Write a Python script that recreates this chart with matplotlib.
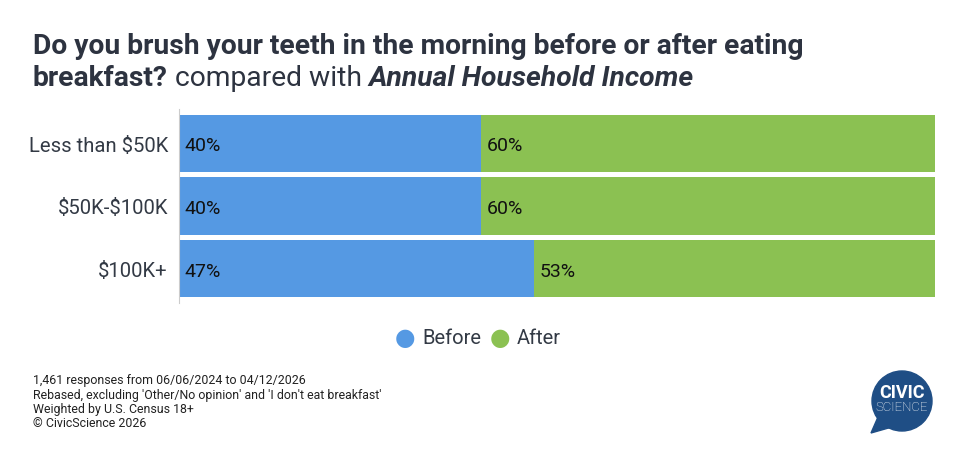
import matplotlib.pyplot as plt
from matplotlib.patches import Circle, Polygon

plt.rcParams['font.family'] = ['Roboto', 'DejaVu Sans']
plt.rcParams['text.parse_math'] = False

categories = ['Less than $50K', '$50K-$100K', '$100K+']
before = [40, 40, 47]
after = [60, 60, 53]
series_names = ['Before', 'After']
colors = ['#5599E3', '#8BC152']
footnotes = ["1,461 responses from 06/06/2024 to 04/12/2026",
             "Rebased, excluding 'Other/No opinion' and 'I don't eat breakfast'",
             "Weighted by U.S. Census 18+",
             "\u00a9 CivicScience 2026"]

W, H = 966, 464
fig = plt.figure(figsize=(W / 100, H / 100), dpi=100)
ax = fig.add_axes([179 / W, 1 - 301 / H, (935 - 179) / W, (301 - 113) / H])

y = list(range(len(categories)))
ax.barh(y, before, height=0.92, color=colors[0])
ax.barh(y, after, left=before, height=0.92, color=colors[1])
for i in y:
    ax.text(0.7, i + 0.03, f'{before[i]}%', va='center', ha='left', fontsize=14, color='#111111')
    ax.text(before[i] + 0.7, i + 0.03, f'{after[i]}%', va='center', ha='left', fontsize=14, color='#111111')

ax.set_xlim(0, 100)
ax.set_ylim(len(categories) - 0.5, -0.5)
ax.set_yticks(y)
ax.set_yticklabels(categories, fontsize=14.6, color='#333a45')
ax.tick_params(axis='y', length=0, pad=8)
ax.set_xticks([])
for s in ['top', 'right', 'bottom']:
    ax.spines[s].set_visible(False)
ax.spines['left'].set_color('#cccccc')
ax.spines['left'].set_bounds(-0.55, 2.55)

# title with mixed styles
title_color = '#2D3340'
fig.text(33 / W, 1 - 47 / H, 'Do you brush your teeth in the morning before or after eating',
         fontsize=20.3, fontweight='bold', color=title_color, va='center')
fig.canvas.draw()
r = fig.canvas.get_renderer()
x = 33
for txt, kw in [('breakfast?', dict(fontweight='bold')),
                (' compared with ', dict()),
                ('Annual Household Income', dict(fontweight='bold', style='italic'))]:
    t = fig.text(x / W, 1 - 78 / H, txt, fontsize=20.3, color=title_color, va='center', **kw)
    x += t.get_window_extent(renderer=r).width

# legend
lx = 405
for name, c in zip(series_names, colors):
    fig.text(lx / W, 1 - 339 / H, '\u25CF', color=c, fontsize=17, ha='center', va='center')
    t = fig.text((lx + 17) / W, 1 - 339 / H, name, fontsize=14.5, color='#333a45', va='center')
    lx += 17 + t.get_window_extent(renderer=r).width + 19

for k, line in enumerate(footnotes):
    fig.text(33 / W, 1 - (381 + 14.3 * k) / H, line, fontsize=8.9, color='#222222', va='center')

# logo
logo_ax = fig.add_axes([866 / W, 1 - 440 / H, 70 / W, 74 / H])
logo_ax.set_xlim(0, 70)
logo_ax.set_ylim(0, 74)
logo_ax.axis('off')
navy = '#1F4E85'
logo_ax.add_patch(Circle((36, 38), 30, color=navy))
logo_ax.add_patch(Polygon([(12, 22), (5, 6), (26, 12)], color=navy))
logo_ax.text(36, 47, 'CIVIC', color='white', fontsize=13, fontweight='bold', ha='center', va='center')
logo_ax.text(36, 32, 'SCIENCE', color='white', fontsize=9.5, fontweight='light', ha='center', va='center')

fig.savefig('out.png', dpi=100)
